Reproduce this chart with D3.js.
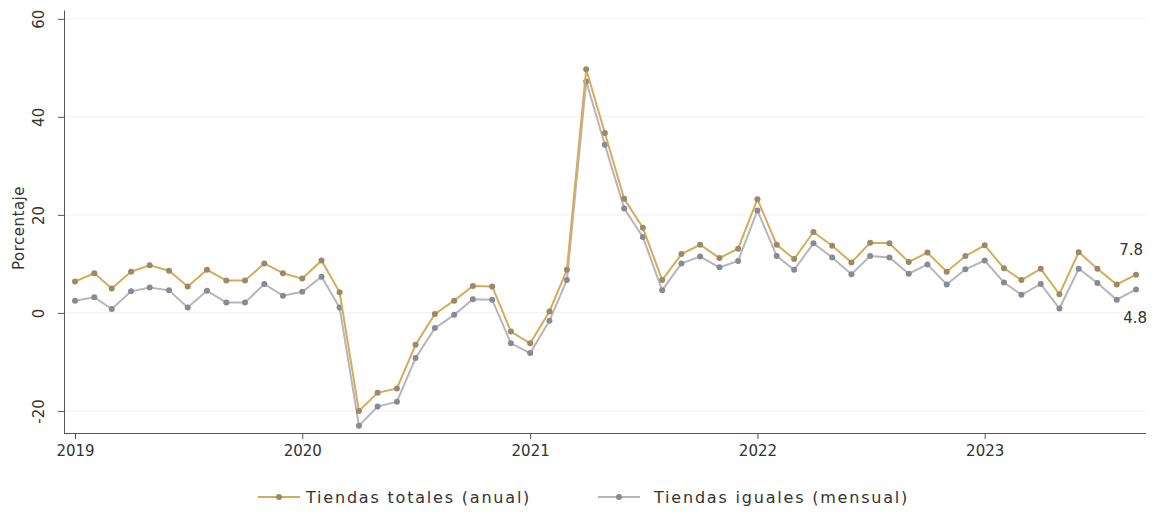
<!DOCTYPE html>
<html>
<head>
<meta charset="utf-8">
<script src="https://cdn.jsdelivr.net/npm/d3@7"></script>
<style>
  body { margin: 0; background: #fff; }
  text { font-family: "DejaVu Sans", sans-serif; }
</style>
</head>
<body>
<div id="wrapper"></div>
<script>
// monthly data, Jan 2019 - Sep 2023
const months = d3.timeMonths(new Date(2019, 0, 1), new Date(2023, 9, 1));
const totales = [
  6.4, 8.1, 5.0, 8.4, 9.7, 8.6, 5.4, 8.8, 6.6, 6.6, 10.1, 8.1,
  7.0, 10.7, 4.2, -20.0, -16.3, -15.4, -6.5, -0.2, 2.5, 5.5, 5.4, -3.8,
  -6.2, 0.3, 8.8, 49.7, 36.7, 23.3, 17.4, 6.7, 12.0, 13.9, 11.2, 13.1,
  23.2, 13.9, 11.0, 16.5, 13.7, 10.3, 14.3, 14.2, 10.4, 12.3, 8.4, 11.6,
  13.8, 9.1, 6.7, 9.0, 3.8, 12.4, 9.0, 5.8, 7.8
];
const iguales = [
  2.5, 3.2, 0.8, 4.4, 5.2, 4.6, 1.1, 4.5, 2.1, 2.1, 5.9, 3.5,
  4.3, 7.4, 1.1, -23.0, -19.1, -18.1, -9.2, -3.1, -0.4, 2.8, 2.7, -6.2,
  -8.2, -1.6, 6.7, 47.2, 34.3, 21.3, 15.5, 4.6, 10.1, 11.5, 9.3, 10.6,
  20.9, 11.6, 8.8, 14.2, 11.3, 7.9, 11.6, 11.3, 8.0, 9.9, 5.8, 8.9,
  10.7, 6.2, 3.7, 5.9, 0.9, 9.0, 6.1, 2.7, 4.8
];
const yTicks = [-20, 0, 20, 40, 60];
const xTicks = [2019, 2020, 2021, 2022, 2023];
const seriesNames = ["Tiendas totales (anual)", "Tiendas iguales (mensual)"];

const width = 1156, height = 517;
const colors = { line: ["#d6ac5a", "#b6b6b6"], marker: ["#9a8a68", "#868b96"] };

const svg = d3.select("#wrapper").append("svg")
  .attr("width", width)
  .attr("height", height);

const xScale = d3.scaleTime()
  .domain([months[0], months[months.length - 1]])
  .range([75, 1136]);
const yScale = d3.scaleLinear()
  .domain([-24.5, 61.8])
  .range([433, 10]);

// gridlines
svg.append("g").selectAll("line")
  .data(yTicks)
  .join("line")
  .attr("x1", 65).attr("x2", 1146)
  .attr("y1", d => yScale(d)).attr("y2", d => yScale(d))
  .attr("stroke", "#efefef")
  .attr("stroke-width", 1);

// y axis
const yAxis = svg.append("g")
  .attr("transform", "translate(64,0)")
  .call(d3.axisLeft(yScale).tickValues(yTicks).tickFormat(d => String(d))
    .tickSize(6).tickPadding(6).tickSizeOuter(0));
yAxis.select(".domain").attr("stroke", "#555");
yAxis.selectAll(".tick line").attr("stroke", "#555");
yAxis.selectAll(".tick text")
  .attr("transform", "rotate(-90)")
  .attr("x", 0).attr("y", -20)
  .attr("dy", "0")
  .attr("text-anchor", "middle")
  .attr("font-size", 15)
  .attr("fill", "#333");

// x axis
const xAxis = svg.append("g")
  .attr("transform", "translate(0,433)")
  .call(d3.axisBottom(xScale)
    .tickValues(xTicks.map(y => new Date(y, 0, 1)))
    .tickFormat(d3.timeFormat("%Y"))
    .tickSize(6).tickPadding(6).tickSizeOuter(0));
xAxis.select(".domain").attr("d", "M64,0.5H1146").attr("stroke", "#555");
xAxis.selectAll(".tick line").attr("stroke", "#555");
xAxis.selectAll(".tick text").attr("font-size", 15).attr("fill", "#333");

// y label
svg.append("text")
  .attr("transform", "translate(24,228) rotate(-90)")
  .attr("text-anchor", "middle")
  .attr("font-size", 15)
  .attr("letter-spacing", 0.5)
  .attr("fill", "#333")
  .text("Porcentaje");

// series
const line = d3.line()
  .x((d, i) => xScale(months[i]))
  .y(d => yScale(d));

[iguales, totales].forEach((vals, k) => {
  const idx = k === 0 ? 1 : 0;
  svg.append("path")
    .attr("d", line(vals))
    .attr("fill", "none")
    .attr("stroke", colors.line[idx])
    .attr("stroke-width", 2);
  svg.append("g").selectAll("circle")
    .data(vals)
    .join("circle")
    .attr("cx", (d, i) => xScale(months[i]))
    .attr("cy", d => yScale(d))
    .attr("r", 3)
    .attr("fill", colors.marker[idx]);
});

// end labels
const last = months.length - 1;
svg.append("text")
  .attr("x", xScale(months[last]) + 7)
  .attr("y", yScale(totales[last]) - 20)
  .attr("text-anchor", "end")
  .attr("font-size", 15)
  .attr("fill", "#333")
  .text(totales[last].toFixed(1));
svg.append("text")
  .attr("x", xScale(months[last]) + 11)
  .attr("y", yScale(iguales[last]) + 34)
  .attr("text-anchor", "end")
  .attr("font-size", 15)
  .attr("fill", "#333")
  .text(iguales[last].toFixed(1));

// legend
const legendX = [258, 598];
const legendTextX = [306, 654];
seriesNames.forEach((name, i) => {
  const g = svg.append("g").attr("transform", `translate(${legendX[i]},497)`);
  g.append("line").attr("x1", 0).attr("x2", 42).attr("y1", 0).attr("y2", 0)
    .attr("stroke", colors.line[i]).attr("stroke-width", 2);
  g.append("circle").attr("cx", 21).attr("cy", 0).attr("r", 3).attr("fill", colors.marker[i]);
  g.append("text").attr("x", legendTextX[i] - legendX[i]).attr("y", 6)
    .attr("font-size", 16).attr("letter-spacing", 1.8)
    .attr("fill", "#333").text(name);
});
</script>
</body>
</html>
